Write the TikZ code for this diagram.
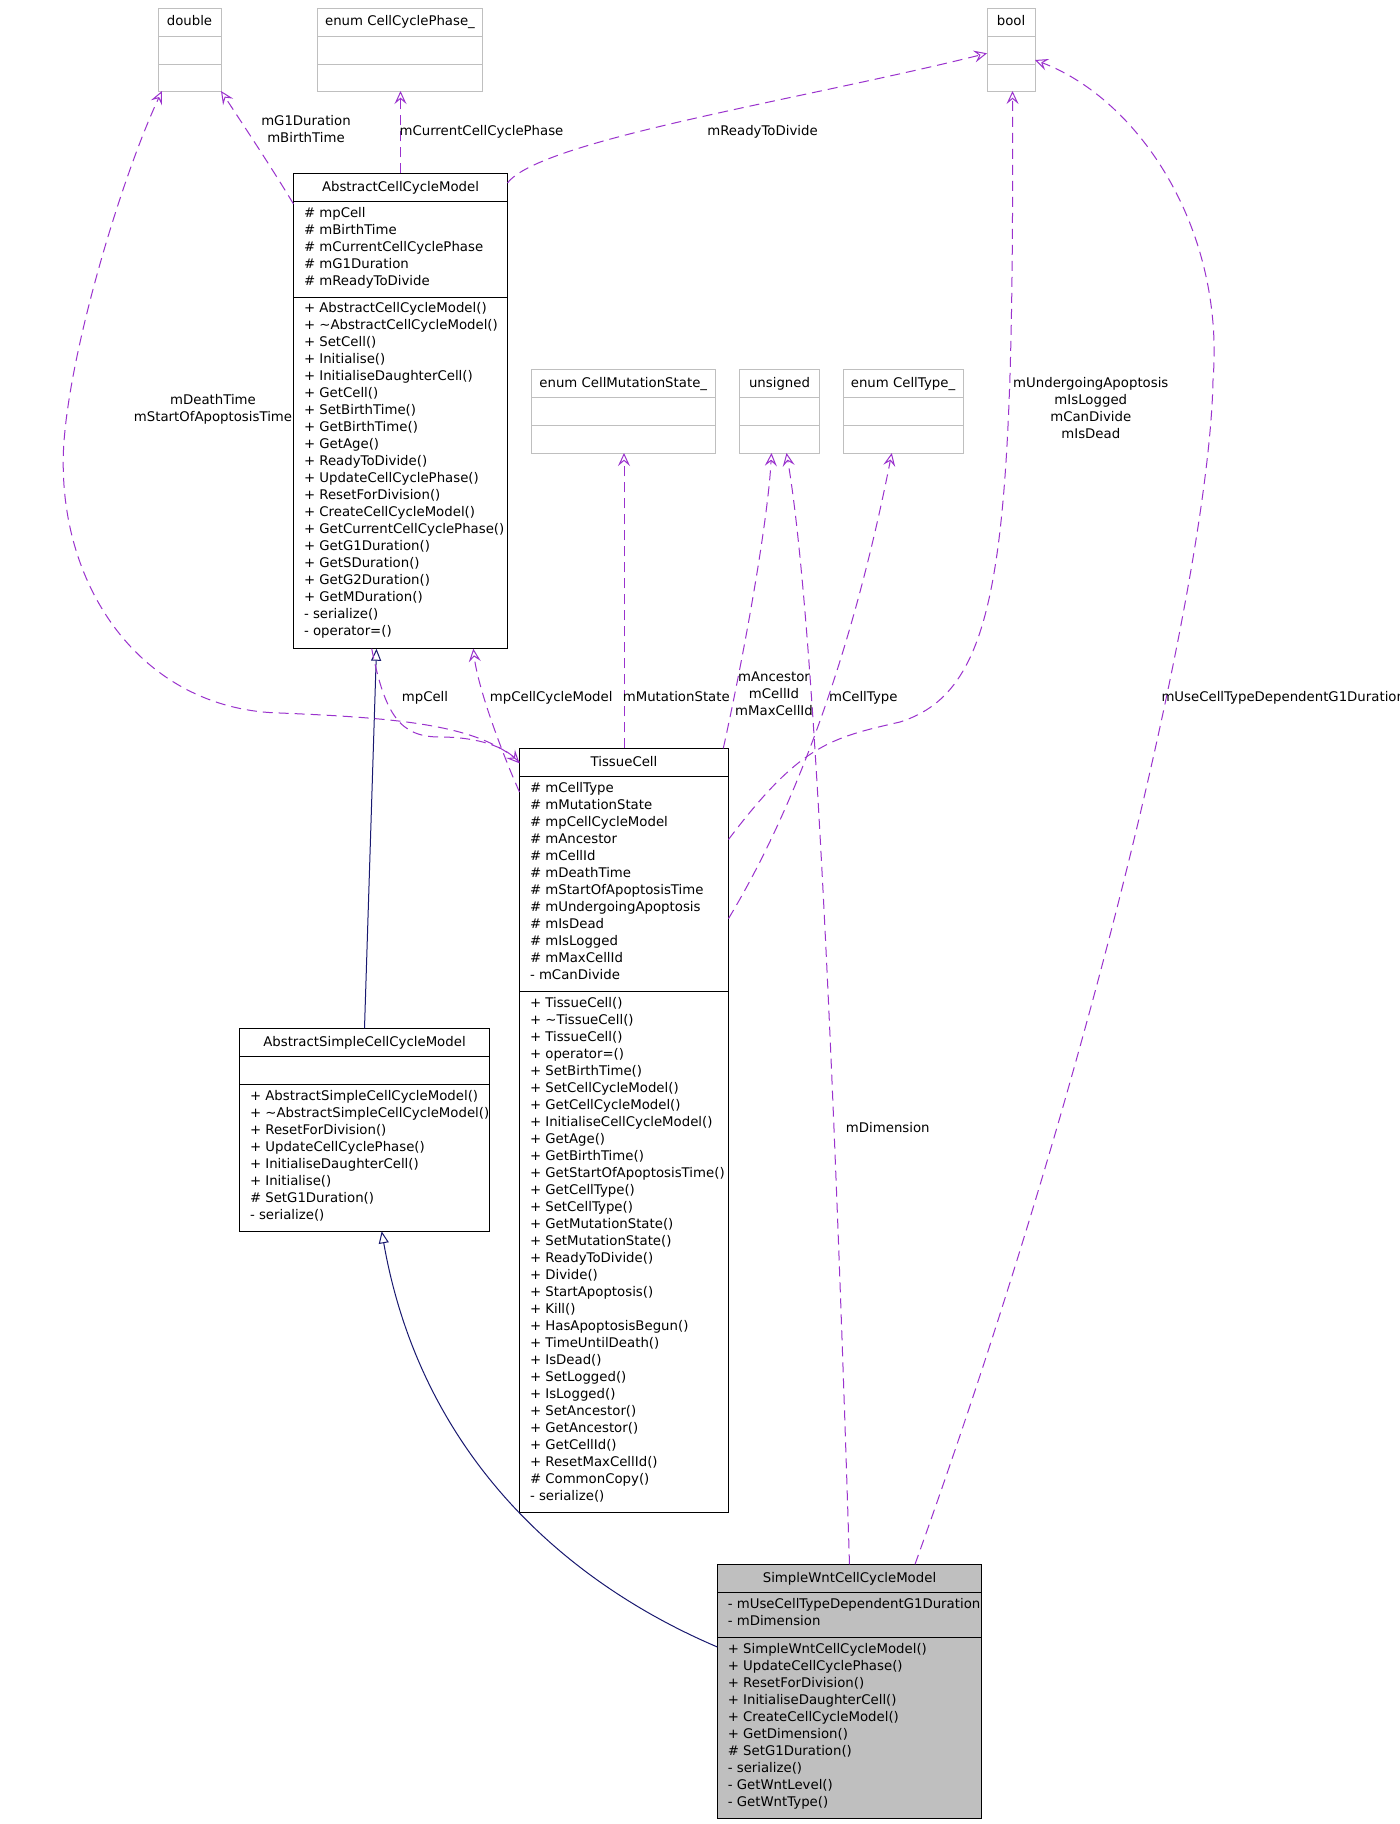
\documentclass[tikz,border=0pt]{standalone}
\usepackage{fontspec}
\setmainfont{DejaVu Sans}
\usetikzlibrary{arrows.meta}
\definecolor{usecol}{HTML}{9A32CD}
\definecolor{inhcol}{HTML}{191970}
\definecolor{boxgray}{HTML}{BFBFBF}
\tikzset{
  txt/.style={font=\fontsize{13.3}{17}\selectfont, inner sep=0pt, outer sep=0pt, text=black},
  cls/.style={draw=black, line width=1pt, anchor=north west, inner sep=0pt, outer sep=0pt},
  extcls/.style={draw=boxgray, line width=1pt, anchor=north west, inner sep=0pt, outer sep=0pt},
  sepline/.style={line width=1pt},
  gsepline/.style={draw=boxgray, line width=1pt},
  ttl/.style={txt, anchor=base},
  body/.style={txt, align=left, anchor=north west, execute at begin node=\strut},
  lbl/.style={txt, align=center, anchor=north, execute at begin node=\strut},
  uses/.style={draw=usecol, line width=1pt, dash pattern=on 10pt off 6pt,
     -{Stealth[open, length=13pt, width=12pt, inset=5pt, line width=1pt]}},
  inh/.style={draw=inhcol, line width=1pt,
     -{Triangle[open, length=12pt, width=10pt, line width=1pt]}},
}
\begin{document}
\begin{tikzpicture}[x=1pt,y=-1pt]
\fill[white] (0,0) rectangle (1400,1824);
\useasboundingbox (0,0) rectangle (1400,1824);

% ---------- external (gray) classes ----------
\node[extcls, minimum width=63pt, minimum height=83pt] (dbl) at (158,8) {};
\draw[gsepline] (158,36) -- (221,36) (158,64) -- (221,64);
\node[ttl] (dblt) at (189.5,25.9) {double};

\node[extcls, minimum width=165pt, minimum height=83pt] (ccp) at (317.5,8) {};
\draw[gsepline] (317.5,36) -- (482.5,36) (317.5,64) -- (482.5,64);
\node[ttl] (ccpt) at (400,25.9) {enum CellCyclePhase\_};

\node[extcls, minimum width=48pt, minimum height=83pt] (bool) at (987,8) {};
\draw[gsepline] (987,36) -- (1035,36) (987,64) -- (1035,64);
\node[ttl] (boolt) at (1011,25.9) {bool};

\node[extcls, minimum width=183.5pt, minimum height=83.5pt] (cms) at (531.5,369.5) {};
\draw[gsepline] (531.5,397.5) -- (715,397.5) (531.5,425.5) -- (715,425.5);
\node[ttl] (cmst) at (623.25,387.4) {enum CellMutationState\_};

\node[extcls, minimum width=80pt, minimum height=83.5pt] (uns) at (739.5,369.5) {};
\draw[gsepline] (739.5,397.5) -- (819.5,397.5) (739.5,425.5) -- (819.5,425.5);
\node[ttl] (unst) at (779.5,387.4) {unsigned};

\node[extcls, minimum width=120pt, minimum height=83.5pt] (ct) at (843,369.5) {};
\draw[gsepline] (843,397.5) -- (963,397.5) (843,425.5) -- (963,425.5);
\node[ttl] (ctt) at (903,387.4) {enum CellType\_};

% ---------- AbstractCellCycleModel ----------
\node[cls, minimum width=214pt, minimum height=475.4pt] (accm) at (293.5,173.3) {};
\draw[sepline] (293.5,201.7) -- (507.5,201.7) (293.5,297) -- (507.5,297);
\node[ttl] (accmt) at (400.5,191.2) {AbstractCellCycleModel};
\node[body] (accma) at (304,207.2) {\# mpCell\\\# mBirthTime\\\# mCurrentCellCyclePhase\\\# mG1Duration\\\# mReadyToDivide};
\node[body] (accmm) at (304,302.5) {+ AbstractCellCycleModel()\\+ \textasciitilde AbstractCellCycleModel()\\+ SetCell()\\+ Initialise()\\+ InitialiseDaughterCell()\\+ GetCell()\\+ SetBirthTime()\\+ GetBirthTime()\\+ GetAge()\\+ ReadyToDivide()\\+ UpdateCellCyclePhase()\\+ ResetForDivision()\\+ CreateCellCycleModel()\\+ GetCurrentCellCyclePhase()\\+ GetG1Duration()\\+ GetSDuration()\\+ GetG2Duration()\\+ GetMDuration()\\- serialize()\\- operator=()};

% ---------- TissueCell ----------
\node[cls, minimum width=209pt, minimum height=764pt] (tc) at (519.5,748.3) {};
\draw[sepline] (519.5,776.6) -- (728.5,776.6) (519.5,991.6) -- (728.5,991.6);
\node[ttl] (tct) at (624,766.2) {TissueCell};
\node[body] (tca) at (530,782.1) {\# mCellType\\\# mMutationState\\\# mpCellCycleModel\\\# mAncestor\\\# mCellId\\\# mDeathTime\\\# mStartOfApoptosisTime\\\# mUndergoingApoptosis\\\# mIsDead\\\# mIsLogged\\\# mMaxCellId\\- mCanDivide};
\node[body] (tcm) at (530,997.1) {+ TissueCell()\\+ \textasciitilde TissueCell()\\+ TissueCell()\\+ operator=()\\+ SetBirthTime()\\+ SetCellCycleModel()\\+ GetCellCycleModel()\\+ InitialiseCellCycleModel()\\+ GetAge()\\+ GetBirthTime()\\+ GetStartOfApoptosisTime()\\+ GetCellType()\\+ SetCellType()\\+ GetMutationState()\\+ SetMutationState()\\+ ReadyToDivide()\\+ Divide()\\+ StartApoptosis()\\+ Kill()\\+ HasApoptosisBegun()\\+ TimeUntilDeath()\\+ IsDead()\\+ SetLogged()\\+ IsLogged()\\+ SetAncestor()\\+ GetAncestor()\\+ GetCellId()\\+ ResetMaxCellId()\\\# CommonCopy()\\- serialize()};

% ---------- AbstractSimpleCellCycleModel ----------
\node[cls, minimum width=250pt, minimum height=203pt] (asccm) at (239.5,1028.3) {};
\draw[sepline] (239.5,1056.5) -- (489.5,1056.5) (239.5,1084.5) -- (489.5,1084.5);
\node[ttl] (asccmt) at (364.5,1046.2) {AbstractSimpleCellCycleModel};
\node[body] (asccmm) at (250,1090) {+ AbstractSimpleCellCycleModel()\\+ \textasciitilde AbstractSimpleCellCycleModel()\\+ ResetForDivision()\\+ UpdateCellCyclePhase()\\+ InitialiseDaughterCell()\\+ Initialise()\\\# SetG1Duration()\\- serialize()};

% ---------- SimpleWntCellCycleModel ----------
\node[cls, fill=boxgray, minimum width=264.4pt, minimum height=254pt] (swccm) at (717.3,1564.3) {};
\draw[sepline] (717.3,1592.4) -- (981.7,1592.4) (717.3,1637.4) -- (981.7,1637.4);
\node[ttl] (swccmt) at (849.5,1582.2) {SimpleWntCellCycleModel};
\node[body] (swccma) at (727.8,1597.9) {- mUseCellTypeDependentG1Duration\\- mDimension};
\node[body] (swccmm) at (727.8,1642.9) {+ SimpleWntCellCycleModel()\\+ UpdateCellCyclePhase()\\+ ResetForDivision()\\+ InitialiseDaughterCell()\\+ CreateCellCycleModel()\\+ GetDimension()\\\# SetG1Duration()\\- serialize()\\- GetWntLevel()\\- GetWntType()};

% ---------- inheritance ----------
\draw[inh] (asccm.north) -- ([xshift=-24pt]accm.south);
\draw[inh] ([yshift=44.35pt]swccm.west) .. controls (560,1580) and (420,1450) .. ([xshift=17.2pt]asccm.south);

% ---------- usage relations ----------
\draw[uses] ([yshift=-30.7pt]accm.north west) .. controls (270,165) and (240,120) .. (dbl.south east);
\draw[uses] ([yshift=-14pt]tc.north west) .. controls (480,725) and (400,718) .. (280,713)
   .. controls (150,710) and (66,600) .. (63.3,470) .. controls (60,380) and (120,180) .. ([xshift=4pt]dbl.south west);
\draw[uses] (accm.north) -- (accm.north |- ccp.south);
\draw[uses] ([yshift=-9.7pt]accm.north east) .. controls (540,140) and (800,100) .. ([yshift=-3.8pt]bool.west);
\draw[uses] ([yshift=-91.2pt]tc.north east) .. controls (800,745) and (830,738) .. (900,722)
   .. controls (1000,690) and (1014,560) .. ([xshift=1.5pt]bool.south);
\draw[uses] ([yshift=-170.3pt]tc.north east) .. controls (800,800) and (855,640) .. ([xshift=-11.2pt]ct.south);
\draw[uses] ([xshift=-5.2pt]tc.north east) .. controls (745,650) and (768,520) .. ([xshift=-8pt]uns.south);
\draw[uses] (swccm.north) .. controls (835,1100) and (815,620) .. ([xshift=7pt]uns.south);
\draw[uses] (tc.north) -- (tc.north |- cms.south);
\draw[uses] ([xshift=65.5pt]swccm.north) .. controls (1100,1050) and (1210,560) .. (1213,380)
   .. controls (1225,230) and (1140,100) .. ([yshift=-10.5pt]bool.east);
\draw[uses] ([xshift=-28.8pt]accm.south) .. controls (385,715) and (400,737) .. (440,737)
   .. controls (480,737) and (505,748) .. ([yshift=-15pt]tc.north west);
\draw[uses] ([yshift=-43.7pt]tc.north west) .. controls (505,760) and (478,690) .. ([xshift=72.8pt]accm.south);

% ---------- edge labels ----------
\node[lbl] (l1) at (306,115.65) {mG1Duration\\mBirthTime};
\node[lbl] (l2) at (481.5,123.65) {mCurrentCellCyclePhase};
\node[lbl] (l3) at (762.5,123.65) {mReadyToDivide};
\node[lbl] (l4) at (213,394.65) {mDeathTime\\mStartOfApoptosisTime};
\node[lbl] (l5) at (425,689.65) {mpCell};
\node[lbl] (l6) at (551.2,689.65) {mpCellCycleModel};
\node[lbl] (l7) at (676.3,689.65) {mMutationState};
\node[lbl] (l8) at (774,672.25) {mAncestor\\mCellId\\mMaxCellId};
\node[lbl] (l9) at (863.3,689.65) {mCellType};
\node[lbl] (l10) at (1090.8,377.25) {mUndergoingApoptosis\\mIsLogged\\mCanDivide\\mIsDead};
\node[body] (l11) at (1161.5,689.65) {mUseCellTypeDependentG1Duration};
\node[lbl] (l12) at (887.8,1120.85) {mDimension};
\end{tikzpicture}
\end{document}
